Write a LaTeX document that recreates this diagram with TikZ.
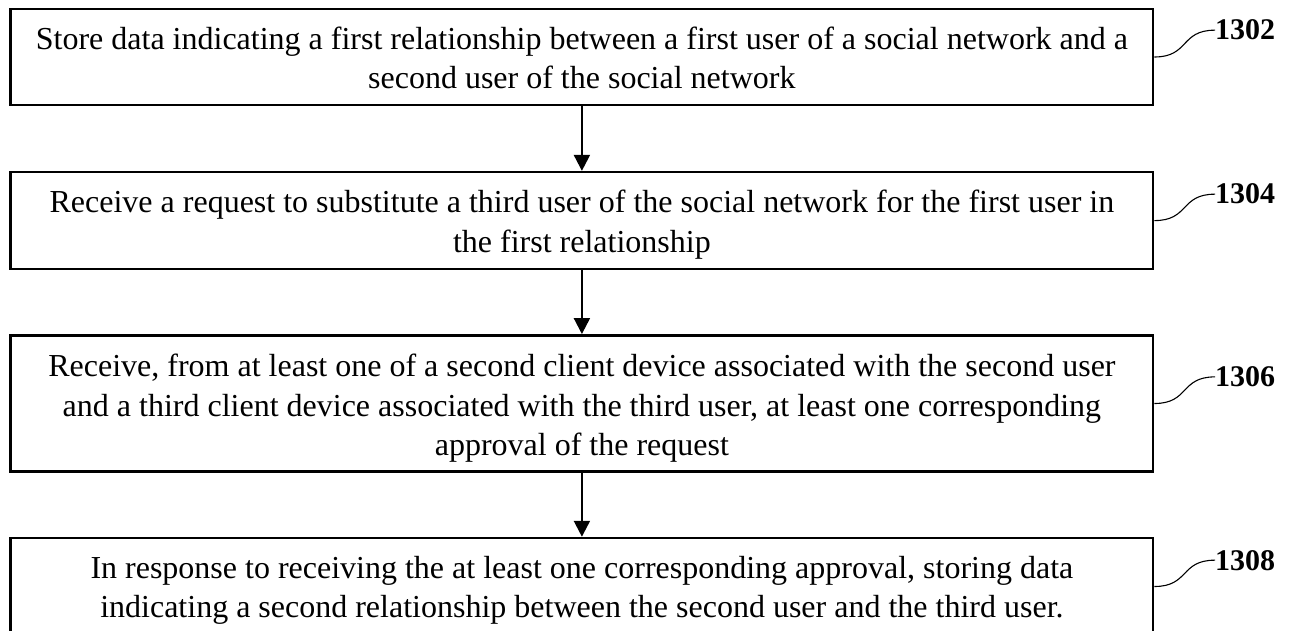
\documentclass[tikz,border=0pt]{standalone}
\usepackage{fontspec}
\setmainfont{Liberation Serif}
\usetikzlibrary{arrows.meta}
\begin{document}
\begin{tikzpicture}[x=1pt,y=-1pt,
  stepbox/.style={draw, line width=2.5pt, minimum width=1142.5pt, inner sep=0pt},
  steptext/.style={align=center, font=\fontsize{32}{39.3}\selectfont, inner sep=0pt, anchor=base},
  flow/.style={line width=2.2pt, -{Triangle[width=16pt,length=16pt]}},
  refline/.style={line width=1.1pt},
  reflabel/.style={font=\fontsize{30}{36}\selectfont\bfseries, inner sep=0pt, anchor=base west}]
\useasboundingbox (0,0) rectangle (1298,631);

% process steps
\node[stepbox, minimum height=96pt]  (b1) at (581.9,57) {};
\node[stepbox, minimum height=97pt]  (b2) at (581.9,220.6) {};
\node[stepbox, minimum height=136.4pt] (b3) at (581.9,403.5) {};
\node[stepbox, minimum height=97pt]  (b4) at (581.9,586.5) {};

% step texts (anchored on the baseline of their last line)
\node[steptext] (t1) at (581.9,88.5) {Store data indicating a first relationship between a first user of a social network and a\\ second user of the social network};
\node[steptext] (t2) at (581.9,252) {Receive a request to substitute a third user of the social network for the first user in\\ the first relationship};
\node[steptext] (t3) at (581.9,455.5) {Receive, from at least one of a second client device associated with the second user\\ and a third client device associated with the third user, at least one corresponding\\ approval of the request};
\node[steptext] (t4) at (581.9,617.5) {In response to receiving the at least one corresponding approval, storing data\\ indicating a second relationship between the second user and the third user.};

% flow arrows
\draw[flow] (b1) -- (b2);
\draw[flow] (b2) -- (b3);
\draw[flow] (b3) -- (b4);

% reference numerals
\node[reflabel] (l1) at (1215,40) {1302};
\node[reflabel] (l2) at (1215,204) {1304};
\node[reflabel] (l3) at (1215,386.7) {1306};
\node[reflabel] (l4) at (1215,570) {1308};

\foreach \b/\l in {b1/l1, b2/l2, b3/l3, b4/l4}
  \draw[refline] (\b.east) .. controls +(35,0) and +(-35,0) .. (\l.west);
\end{tikzpicture}
\end{document}
